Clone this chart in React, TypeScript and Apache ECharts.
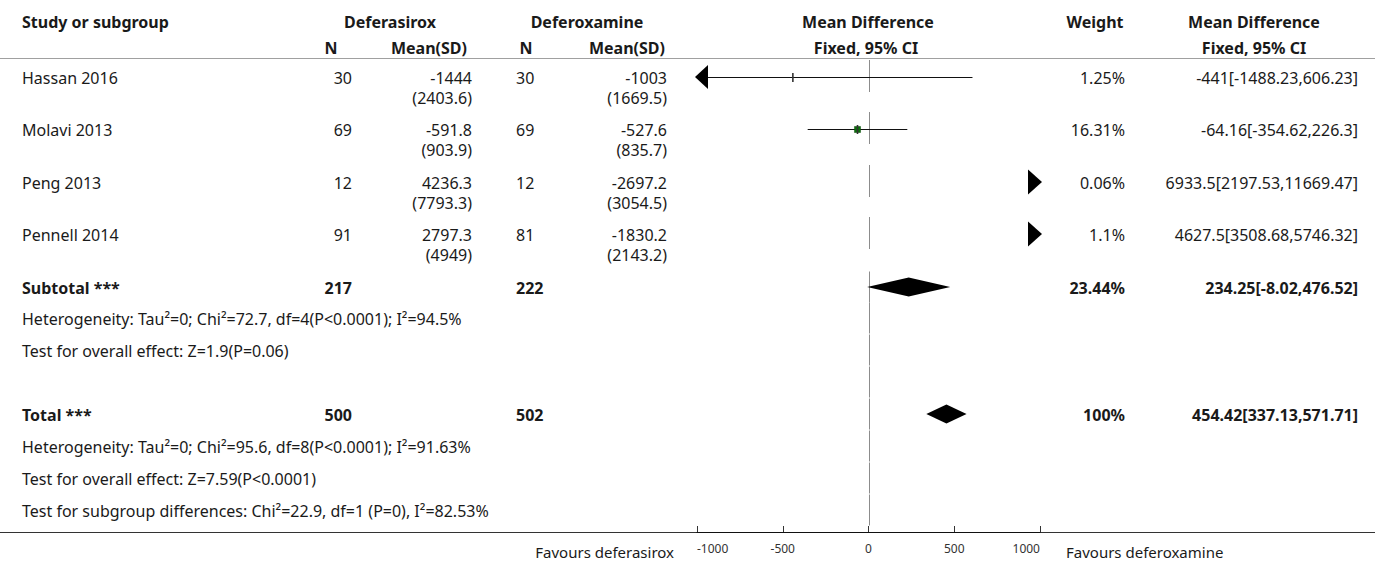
import React, { useEffect, useRef } from "react";
import * as echarts from "echarts";

// ---------- data ----------
const studies = ["Hassan 2016", "Molavi 2013", "Peng 2013", "Pennell 2014"];
const nDeferasirox = [30, 69, 12, 91];
const meanDeferasirox = ["-1444", "-591.8", "4236.3", "2797.3"];
const sdDeferasirox = ["2403.6", "903.9", "7793.3", "4949"];
const nDeferoxamine = [30, 69, 12, 81];
const meanDeferoxamine = ["-1003", "-527.6", "-2697.2", "-1830.2"];
const sdDeferoxamine = ["1669.5", "835.7", "3054.5", "2143.2"];
const weights = [1.25, 16.31, 0.06, 1.1];
const meanDiff = [-441, -64.16, 6933.5, 4627.5];
const ciLow = [-1488.23, -354.62, 2197.53, 3508.68];
const ciHigh = [606.23, 226.3, 11669.47, 5746.32];

const summaryLabels = ["Subtotal ***", "Total ***"];
const summaryN1 = [217, 500];
const summaryN2 = [222, 502];
const summaryWeight = [23.44, 100];
const summaryMd = [234.25, 454.42];
const summaryLow = [-8.02, 337.13];
const summaryHigh = [476.52, 571.71];

const subtotalStats = [
  "Heterogeneity: Tau\u00b2=0; Chi\u00b2=72.7, df=4(P<0.0001); I\u00b2=94.5%",
  "Test for overall effect: Z=1.9(P=0.06)",
];
const totalStats = [
  "Heterogeneity: Tau\u00b2=0; Chi\u00b2=95.6, df=8(P<0.0001); I\u00b2=91.63%",
  "Test for overall effect: Z=7.59(P<0.0001)",
  "Test for subgroup differences: Chi\u00b2=22.9, df=1 (P=0), I\u00b2=82.53%",
];
const xMin = -1000;
const xMax = 1000;
const xInterval = 500;
const favoursLeft = "Favours deferasirox";
const favoursRight = "Favours deferoxamine";

// ---------- layout ----------
const W = 1375;
const H = 563;
const STUDY_Y = [77, 129, 182, 234];
const SUMMARY_Y = [287, 414];
const SUBSTAT_Y = [318, 350];
const TOTSTAT_Y = [446, 478, 510];
const BLANK_Y = [382];
const AXIS_Y = 532;
const FONT = "'Noto Sans', 'Open Sans', sans-serif";
const FS = 16;
const TXT = "#1a1a1a";

type Align = "left" | "right" | "center";
function txt(text: string, x: number, y: number, align: Align, bold = false, size = FS, color = TXT) {
  return {
    type: "text",
    x,
    y,
    silent: true,
    style: {
      text,
      fill: color,
      font: `${bold ? "bold " : ""}${size}px ${FONT}`,
      fontSize: size,
      fontFamily: FONT,
      fontWeight: bold ? "bold" : "normal",
      textAlign: align,
      align,
      textVerticalAlign: "middle",
      verticalAlign: "middle",
    },
  };
}

const fmt = (v: number) => String(v);

export default function App() {
  const ref = useRef<HTMLDivElement>(null);
  useEffect(() => {
    if (!ref.current) return;
    const chart = echarts.init(ref.current, undefined, { renderer: "svg" });

    const graphics: any[] = [];
    // header
    graphics.push(txt("Study or subgroup", 22, 22, "left", true));
    graphics.push(txt("Deferasirox", 390, 22, "center", true));
    graphics.push(txt("Deferoxamine", 587, 22, "center", true));
    graphics.push(txt("Mean Difference", 868, 22, "center", true));
    graphics.push(txt("Weight", 1095, 22, "center", true));
    graphics.push(txt("Mean Difference", 1254, 22, "center", true));
    graphics.push(txt("N", 331, 48, "center", true));
    graphics.push(txt("Mean(SD)", 467, 48, "right", true));
    graphics.push(txt("N", 526, 48, "center", true));
    graphics.push(txt("Mean(SD)", 665, 48, "right", true));
    graphics.push(txt("Fixed, 95% CI", 866, 48, "center", true));
    graphics.push(txt("Fixed, 95% CI", 1254, 48, "center", true));
    graphics.push({
      type: "line",
      silent: true,
      shape: { x1: 0, y1: 58.5, x2: W, y2: 58.5 },
      style: { stroke: "#a0a0a0", lineWidth: 1 },
    });

    // study rows
    studies.forEach((s, i) => {
      const y = STUDY_Y[i] + 1;
      graphics.push(txt(s, 22, y, "left"));
      graphics.push(txt(String(nDeferasirox[i]), 352, y, "right"));
      graphics.push(txt(meanDeferasirox[i], 472, y, "right"));
      graphics.push(txt(`(${sdDeferasirox[i]})`, 472, y + 20, "right"));
      graphics.push(txt(String(nDeferoxamine[i]), 516, y, "left"));
      graphics.push(txt(meanDeferoxamine[i], 667, y, "right"));
      graphics.push(txt(`(${sdDeferoxamine[i]})`, 667, y + 20, "right"));
      graphics.push(txt(`${weights[i]}%`, 1125, y, "right"));
      graphics.push(txt(`${fmt(meanDiff[i])}[${fmt(ciLow[i])},${fmt(ciHigh[i])}]`, 1358, y, "right"));
    });

    // summary rows
    summaryLabels.forEach((s, i) => {
      const y = SUMMARY_Y[i] + 1;
      graphics.push(txt(s, 22, y, "left", true));
      graphics.push(txt(String(summaryN1[i]), 352, y, "right", true));
      graphics.push(txt(String(summaryN2[i]), 516, y, "left", true));
      graphics.push(txt(`${summaryWeight[i]}%`, 1125, y, "right", true));
      graphics.push(
        txt(`${fmt(summaryMd[i])}[${fmt(summaryLow[i])},${fmt(summaryHigh[i])}]`, 1358, y, "right", true)
      );
    });
    subtotalStats.forEach((s, i) => graphics.push(txt(s, 22, SUBSTAT_Y[i] + 1, "left")));
    totalStats.forEach((s, i) => graphics.push(txt(s, 22, TOTSTAT_Y[i] + 1, "left")));

    // bottom rule + favours labels
    graphics.push({
      type: "line",
      silent: true,
      shape: { x1: 0, y1: AXIS_Y + 0.5, x2: W, y2: AXIS_Y + 0.5 },
      style: { stroke: "#333", lineWidth: 1 },
    });
    graphics.push(txt(favoursLeft, 674, 552, "right", false, 15));
    graphics.push(txt(favoursRight, 1066, 552, "left", false, 15));

    // null line segments
    const nullSegs: number[][] = [];
    STUDY_Y.forEach((y) => nullSegs.push([0, y - 17, y + 15]));
    [...SUMMARY_Y, ...SUBSTAT_Y, ...BLANK_Y, ...TOTSTAT_Y].forEach((y) =>
      nullSegs.push([0, y - 15.5, y + 15.5])
    );

    const studyData = studies.map((_, i) => [meanDiff[i], ciLow[i], ciHigh[i], STUDY_Y[i], weights[i]]);
    const summaryData = summaryLabels.map((_, i) => [summaryMd[i], summaryLow[i], summaryHigh[i], SUMMARY_Y[i]]);

    chart.setOption({
      animation: false,
      grid: { left: 697, right: W - 1040, top: 0, bottom: H - AXIS_Y },
      xAxis: {
        type: "value",
        position: "bottom",
        min: xMin,
        max: xMax,
        interval: xInterval,
        axisLine: { show: true, onZero: false, lineStyle: { color: "#111", width: 1 } },
        axisTick: { show: true, inside: true, length: 6, lineStyle: { color: "#333", width: 1 } },
        axisLabel: {
          fontSize: 12,
          color: "#333",
          margin: 10,
          fontFamily: FONT,
          formatter: (v: number) => String(v),
          alignMinLabel: "left",
          alignMaxLabel: "right",
        },
        splitLine: { show: false },
      },
      yAxis: {
        type: "value",
        min: 0,
        max: AXIS_Y,
        inverse: true,
        show: false,
        axisLine: { show: false, onZero: false },
        splitLine: { show: false },
      },
      graphic: graphics,
      series: [
        {
          type: "custom",
          silent: true,
          clip: false,
          data: nullSegs,
          renderItem: (params: any, api: any) => {
            const x = api.coord([api.value(0), api.value(1)])[0];
            const y1 = api.coord([0, api.value(1)])[1];
            const y2 = api.coord([0, api.value(2)])[1];
            return {
              type: "line",
              shape: { x1: Math.round(x) + 0.5, y1, x2: Math.round(x) + 0.5, y2 },
              style: { stroke: "#8c8c8c", lineWidth: 1 },
            };
          },
        },
        {
          type: "custom",
          silent: true,
          clip: false,
          data: studyData,
          renderItem: (params: any, api: any) => {
            const m = api.value(0);
            const lo = api.value(1);
            const hi = api.value(2);
            const yv = api.value(3);
            const w = api.value(4);
            const y = api.coord([0, yv])[1];
            const X = (v: number) => api.coord([v, yv])[0];
            const xl = X(xMin);
            const xr = X(xMax);
            const children: any[] = [];
            if (lo > xMax) {
              children.push({
                type: "polygon",
                shape: { points: [[xr - 12, y - 12.5], [xr + 2, y], [xr - 12, y + 12.5]] },
                style: { fill: "#000" },
              });
            } else if (hi < xMin) {
              children.push({
                type: "polygon",
                shape: { points: [[xl + 12, y - 12.5], [xl - 2, y], [xl + 12, y + 12.5]] },
                style: { fill: "#000" },
              });
            } else {
              let x1 = X(Math.max(lo, xMin));
              let x2 = X(Math.min(hi, xMax));
              if (lo < xMin) {
                children.push({
                  type: "polygon",
                  shape: { points: [[xl - 2, y], [xl + 11, y - 12], [xl + 11, y + 12]] },
                  style: { fill: "#000" },
                });
                x1 = xl + 11;
              }
              if (hi > xMax) {
                children.push({
                  type: "polygon",
                  shape: { points: [[xr + 2, y], [xr - 11, y - 12], [xr - 11, y + 12]] },
                  style: { fill: "#000" },
                });
                x2 = xr - 11;
              }
              children.push({
                type: "line",
                shape: { x1, y1: y + 0.5, x2, y2: y + 0.5 },
                style: { stroke: "#111", lineWidth: 1.2 },
              });
              const xm = X(m);
              const s = Math.sqrt(w) * 1.5;
              if (s >= 3) {
                children.push({
                  type: "rect",
                  shape: { x: xm - s / 2, y: y + 0.5 - s / 2, width: s, height: s },
                  style: { fill: "#0b700b", stroke: "#0a4a0a", lineWidth: 0.5 },
                });
              }
              children.push({
                type: "line",
                shape: { x1: xm, y1: y - 4, x2: xm, y2: y + 5 },
                style: { stroke: "#333", lineWidth: 1.6 },
              });
            }
            return { type: "group", children };
          },
        },
        {
          type: "custom",
          silent: true,
          clip: false,
          data: summaryData,
          renderItem: (params: any, api: any) => {
            const yv = api.value(3);
            const y = api.coord([0, yv])[1];
            const xm = api.coord([api.value(0), yv])[0];
            const xlo = api.coord([api.value(1), yv])[0];
            const xhi = api.coord([api.value(2), yv])[0];
            return {
              type: "polygon",
              shape: { points: [[xlo, y], [xm, y - 9.5], [xhi, y], [xm, y + 9.5]] },
              style: { fill: "#000" },
            };
          },
        },
      ],
    });
    return () => chart.dispose();
  }, []);
  return (
    <div
      ref={ref}
      style={{ position: "fixed", left: 0, top: 0, width: W, height: H, background: "#fff" }}
    />
  );
}
